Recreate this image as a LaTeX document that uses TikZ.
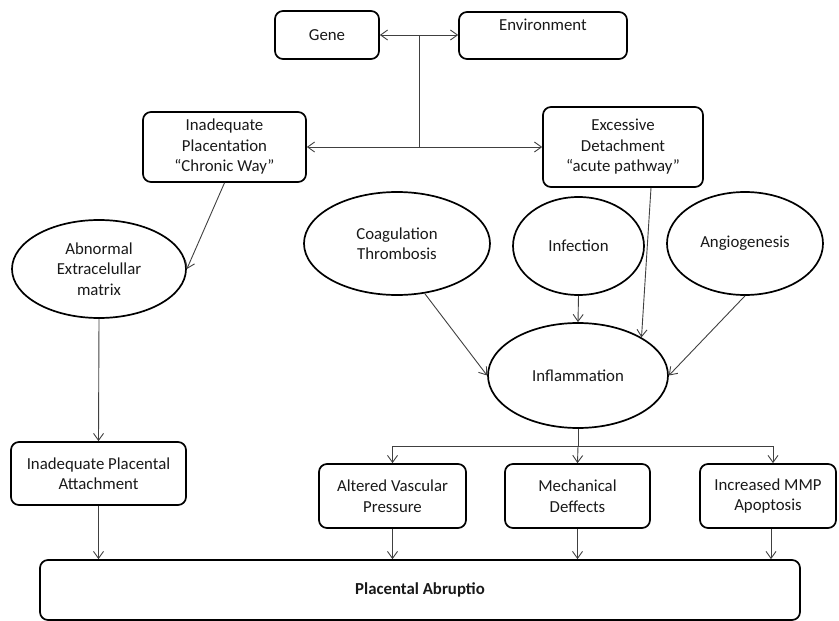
\documentclass[tikz,border=0pt]{standalone}
\usepackage{fontspec}
\setmainfont{Carlito}
\usetikzlibrary{shapes.geometric,arrows.meta,calc}

\begin{document}
\begin{tikzpicture}[x=1pt, y=-1pt,
    font=\fontsize{16.8}{20.5}\selectfont, text=black!90,
    box/.style={rectangle, rounded corners=8pt, draw, line width=1.7pt, align=center, inner sep=0pt},
    oval/.style={ellipse, draw, line width=1.7pt, align=center, inner sep=0pt},
    link/.style={line width=0.9pt, draw=black!75},
    >={Straight Barb[length=7pt,width=10pt]}]
    \useasboundingbox (0,0) rectangle (839,621);
            \node[box, minimum width=104pt, minimum height=48pt] (gene) at (327,35) {Gene};
            \node[box, minimum width=168pt, minimum height=47pt, text height=12pt, text depth=22pt] (env) at (543,35.5) {Environment};
            \node[box, minimum width=163pt, minimum height=70pt] (placent) at (224.5,147) {Inadequate\\Placentation\\``Chronic Way''};
            \node[box, minimum width=160pt, minimum height=80pt] (excess) at (623,147) {Excessive\\Detachment\\``acute pathway''};
            \node[oval, minimum width=174pt, minimum height=98pt] (matrix) at (99,269) {Abnormal\\Extracelullar\\matrix};
            \node[oval, minimum width=186pt, minimum height=103pt] (coag) at (397,243.5) {Coagulation\\Thrombosis};
            \node[oval, minimum width=131pt, minimum height=98pt] (infect) at (578.5,246) {Infection};
            \node[oval, minimum width=156pt, minimum height=103pt] (angio) at (745,243.5) {Angiogenesis};
            \node[oval, minimum width=180pt, minimum height=105pt] (inflam) at (578,375.5) {Inflammation};
            \node[box, minimum width=175pt, minimum height=63pt] (attach) at (98.5,473.5) {Inadequate Placental\\Attachment};
            \node[box, minimum width=147pt, minimum height=64pt] (altered) at (392.5,496) {Altered Vascular\\Pressure};
            \node[box, minimum width=145pt, minimum height=64pt] (mech) at (577.5,496) {Mechanical\\Deffects};
            \node[box, minimum width=136pt, minimum height=64pt] (mmp) at (768,496) {Increased MMP\\Apoptosis};
            \node[box, minimum width=760pt, minimum height=60pt] (abrupt) at (420,590) {\bfseries Placental Abruptio};
            \coordinate (fork) at (419,35);
            \coordinate (join) at (419,147);
            \coordinate (split) at (578,446);
            \coordinate (excessout) at ($(excess.south)+(28,0)$);
            \coordinate (mmpin) at ($(mmp.north)+(5,0)$);
            \coordinate (mmpout) at ($(mmp.south)+(3,0)$);
            \draw[link,<->] (gene.east) -- (gene.east -| env.west);
            \draw[link] (fork) -- (join);
            \draw[link,<->] (placent.east) -- (excess.west);
            \draw[link,->] (placent.south) -- (matrix.east);
            \draw[link,->] (matrix.south) -- (attach.north);
            \draw[link,->] (attach.south) -- (attach.south |- abrupt.north);
            \draw[link,->] (coag.-61) -- (inflam.west);
            \draw[link,->] (infect.south) -- (inflam.north);
            \draw[link,->] (excessout) -- (inflam.31);
            \draw[link,->] (angio.south) -- (inflam.east);
            \draw[link] (inflam.south) -- (split);
            \draw[link,->] (split) -| (altered.north);
            \draw[link,->] (split) -- (mech.north);
            \draw[link,->] (split) -| (mmpin);
            \draw[link,->] (altered.south) -- (altered.south |- abrupt.north);
            \draw[link,->] (mech.south) -- (mech.south |- abrupt.north);
            \draw[link,->] (mmpout) -- (mmpout |- abrupt.north);
\end{tikzpicture}
\end{document}
